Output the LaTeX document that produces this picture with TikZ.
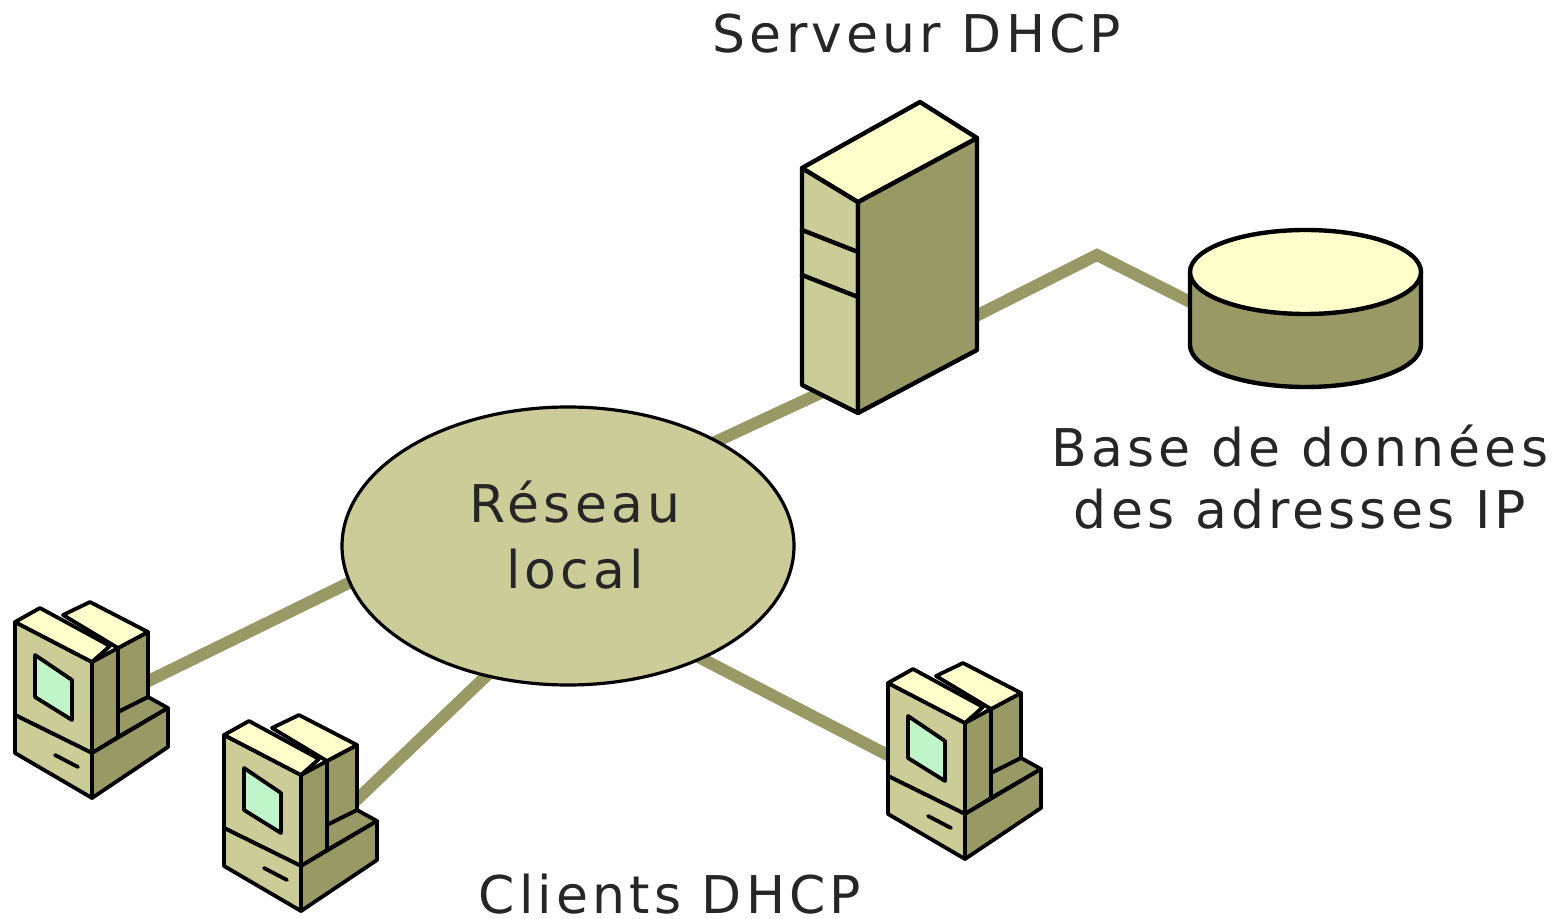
\documentclass[tikz,border=0pt]{standalone}
\usepackage{fontspec}
\setmainfont[LetterSpace=8]{DejaVu Sans}
\usetikzlibrary{shapes.geometric}
\definecolor{lite}{HTML}{FFFFCC}
\definecolor{midc}{HTML}{CCCC99}
\definecolor{dark}{HTML}{999966}
\definecolor{screen}{HTML}{BFF5C8}
\pgfdeclarelayer{back}
\pgfsetlayers{back,main}
\tikzset{
  outl/.style={draw=black,line width=2.2pt,line join=round,line cap=round},
  thinl/.style={draw=black,line width=1.9pt,line join=round,line cap=round},
  wire/.style={draw=dark,line width=6pt,line join=miter},
  lbl/.style={font=\fontsize{26}{30}\selectfont,text=black!85,inner sep=0pt,align=center},
  computer/.pic={
    \path[thinl,fill=midc] (0,0)--(77,40)--(77,131)--(0,93)--cycle;
    \path[thinl,fill=midc] (0,93)--(77,131)--(77,176)--(0,131)--cycle;
    \path[thinl,fill=dark] (103,26)--(133,10)--(133,75)--(103,90)--cycle;
    \path[thinl,fill=dark] (77,40)--(103,26)--(103,115)--(77,131)--cycle;
    \path[thinl,fill=dark] (103,90)--(133,75)--(153,86)--(103,115)--cycle;
    \path[thinl,fill=dark] (77,131)--(153,86)--(153,125)--(77,176)--cycle;
    \path[thinl,fill=lite] (48,-7)--(75,-20)--(133,10)--(103,26)--cycle;
    \path[thinl,fill=lite] (0,0)--(25,-14)--(95,24)--(77,40)--cycle;
    \path[thinl,fill=screen] (20,33)--(57,58)--(57,98)--(20,75)--cycle;
    \draw[thinl] (40,133)--(63,145);
  }
}
\begin{document}
\begin{tikzpicture}[x=0.5pt,y=-0.5pt]
\useasboundingbox (0,0) rectangle (1564,919);
% shapes
\node[ellipse,outl,line width=1.6pt,fill=midc,minimum width=226pt,minimum height=139pt,inner sep=0pt] (lan) at (568,546) {};
\node[lbl,font=\fontsize{26}{33}\selectfont] (lantext) at (575,535) {Réseau\\local};
% server
\path[outl,fill=midc] (802,168)--(858,202)--(858,413)--(802,385)--cycle;
\path[outl,fill=dark] (858,202)--(977,138)--(977,350)--(858,413)--cycle;
\path[outl,fill=lite] (802,168)--(920,102)--(977,138)--(858,202)--cycle;
\draw[outl] (802,230)--(858,252);
\draw[outl] (802,275)--(858,297);
% database
\path[outl,fill=dark] (1190,272)--(1190,345) arc[start angle=180,end angle=0,x radius=115.5,y radius=42]--(1421,272)--cycle;
\path[outl,fill=lite] (1305.5,272) ellipse[x radius=115.5,y radius=42];
% clients
\pic (c1) at (15,622) {computer};
\pic (c2) at (224,735) {computer};
\pic (c3) at (888,683) {computer};
% labels
\node[lbl] (srvlabel) at (917,34) {Serveur DHCP};
\node[lbl,font=\fontsize{26}{31}\selectfont] (dblabel) at (1300,477) {Base de données\\des adresses IP};
\node[lbl] (clabel) at (670,894) {Clients DHCP};
% connection points
\coordinate (lanN) at (700,449);
\coordinate (srvS) at (840,384);
\coordinate (srvE) at (960,324);
\coordinate (bend) at (1097,255);
\coordinate (dbW) at (1210,312);
\coordinate (lanW) at (365,575);
\coordinate (c1port) at (130,690);
\coordinate (lanSW) at (505,658);
\coordinate (c2port) at (345,811);
\coordinate (lanSE) at (685,650);
\coordinate (c3port) at (905,764);
% connectors
\begin{pgfonlayer}{back}
\fill[white] (0,0) rectangle (1564,919);
\draw[wire] (lanN)--(srvS);
\draw[wire] (srvE)--(bend)--(dbW);
\draw[wire] (lanW)--(c1port);
\draw[wire] (lanSW)--(c2port);
\draw[wire] (lanSE)--(c3port);
\end{pgfonlayer}
\end{tikzpicture}
\end{document}
